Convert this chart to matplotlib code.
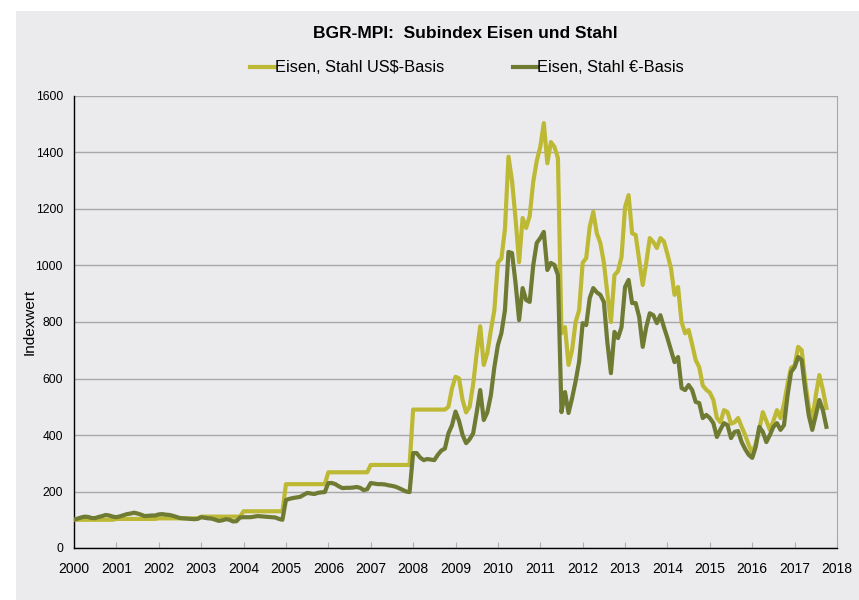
import matplotlib
matplotlib.use("Agg")
import matplotlib.pyplot as plt
import numpy as np

plt.rcParams['font.family'] = ['Liberation Sans', 'DejaVu Sans']

# monthly values, Jan 2000 .. Oct 2017
usd_by_year = {
    2000: [100]*12,
    2001: [103]*12,
    2002: [105]*12,
    2003: [111]*12,
    2004: [130]*12,
    2005: [226]*12,
    2006: [268]*12,
    2007: [294]*12,
    2008: [490]*10 + [500, 565],
    2009: [606, 600, 524, 480, 500, 580, 690, 785, 648, 690, 770, 842],
    2010: [1010, 1025, 1130, 1385, 1300, 1165, 1012, 1168, 1133, 1175, 1296, 1370],
    2011: [1420, 1504, 1362, 1437, 1420, 1380, 760, 782, 648, 700, 800, 842],
    2012: [1010, 1026, 1137, 1190, 1114, 1080, 1010, 900, 800, 966, 980, 1030],
    2013: [1207, 1249, 1114, 1108, 1020, 931, 1010, 1097, 1083, 1062, 1097, 1085],
    2014: [1040, 990, 896, 924, 800, 760, 772, 720, 665, 640, 575, 560],
    2015: [550, 524, 460, 445, 488, 481, 440, 445, 460, 429, 400, 365],
    2016: [336, 370, 420, 481, 450, 418, 450, 488, 460, 510, 580, 638],
    2017: [645, 712, 700, 590, 500, 453, 540, 612, 560, 496],
}

eur_by_year = {
    2000: [100, 104, 108, 111, 110, 106, 106, 110, 113, 117, 115, 111],
    2001: [109, 112, 116, 120, 122, 125, 122, 118, 113, 114, 115, 115],
    2002: [119, 120, 118, 117, 114, 110, 106, 105, 104, 103, 102, 103],
    2003: [109, 107, 105, 104, 100, 96, 98, 102, 100, 94, 95, 108],
    2004: [109, 109, 109, 111, 113, 112, 111, 110, 109, 108, 103, 100],
    2005: [170, 174, 177, 179, 181, 188, 195, 193, 191, 195, 197, 198],
    2006: [230, 230, 226, 218, 212, 213, 213, 214, 216, 213, 205, 208],
    2007: [230, 228, 226, 226, 225, 222, 220, 217, 212, 206, 200, 198],
    2008: [336, 336, 320, 311, 315, 313, 311, 330, 345, 352, 406, 434],
    2009: [483, 450, 400, 371, 385, 406, 480, 559, 453, 480, 540, 640],
    2010: [718, 761, 842, 1048, 1044, 938, 807, 920, 878, 871, 1000, 1080],
    2011: [1097, 1119, 984, 1009, 1002, 966, 481, 552, 478, 530, 590, 660],
    2012: [796, 789, 885, 920, 905, 896, 871, 726, 619, 765, 743, 782],
    2013: [924, 949, 867, 867, 818, 712, 782, 831, 824, 796, 824, 782],
    2014: [743, 700, 658, 676, 566, 559, 577, 559, 517, 513, 460, 471],
    2015: [460, 442, 393, 420, 442, 435, 389, 411, 414, 375, 350, 330],
    2016: [319, 358, 429, 411, 375, 400, 429, 442, 418, 435, 540, 623],
    2017: [640, 676, 665, 560, 470, 418, 470, 524, 488, 429],
}

years = list(range(2000, 2019))
yticks = list(range(0, 1601, 200))

usd = np.array([v for y in sorted(usd_by_year) for v in usd_by_year[y]], dtype=float)
eur = np.array([v for y in sorted(eur_by_year) for v in eur_by_year[y]], dtype=float)
t = 2000 + np.arange(len(usd)) / 12.0

COL_USD = "#bdb934"
COL_EUR = "#6f7a32"
BG = "#ebebed"

fig = plt.figure(figsize=(8.59, 6.0), dpi=100)
fig.patch.set_facecolor("white")
panel = plt.Rectangle((16/859, 0), 1 - 16/859, 1 - 11/600,
                      transform=fig.transFigure, facecolor=BG,
                      edgecolor="none", zorder=-10)
fig.add_artist(panel)

ax = fig.add_axes([74/859, 1 - 548/600, (837 - 74)/859, (548 - 96)/600])
ax.set_facecolor(BG)

ax.plot(t, usd, color=COL_USD, lw=3.0, solid_joinstyle="round",
        label="Eisen, Stahl US$-Basis", zorder=3)
ax.plot(t, eur, color=COL_EUR, lw=3.0, solid_joinstyle="round",
        label="Eisen, Stahl \u20ac-Basis", zorder=4)

ax.set_xlim(2000, 2018)
ax.set_ylim(0, 1600)
ax.set_xticks(years)
ax.set_xticklabels([str(y) for y in years], fontsize=10)
ax.set_yticks(yticks)
ax.set_yticklabels([str(v) for v in yticks], fontsize=8.7)
ax.tick_params(axis="x", direction="in", length=4, color="#b0b0b0", pad=10)
ax.tick_params(axis="y", length=0, pad=8)
ax.yaxis.grid(True, color="#a8a8a8", lw=1.0)
ax.set_axisbelow(True)

for s in ["left", "bottom"]:
    ax.spines[s].set_color("black")
    ax.spines[s].set_linewidth(1.0)
ax.spines["right"].set_color("#a8a8a8")
ax.spines["top"].set_visible(False)

ax.set_ylabel("Indexwert", fontsize=11)
ax.yaxis.set_label_coords(-0.049, 0.5)

fig.text(465/859, 1 - 33/600, "BGR-MPI:  Subindex Eisen und Stahl",
         ha="center", va="center", fontsize=12.5, fontweight="bold")

fig.legend(loc="center", bbox_to_anchor=(467/859, 1 - 68/600), ncol=2,
           frameon=False, fontsize=11.8, handlelength=1.5, handletextpad=0.0,
           columnspacing=4.2)

fig.savefig("out.png", dpi=100, facecolor=fig.get_facecolor())
